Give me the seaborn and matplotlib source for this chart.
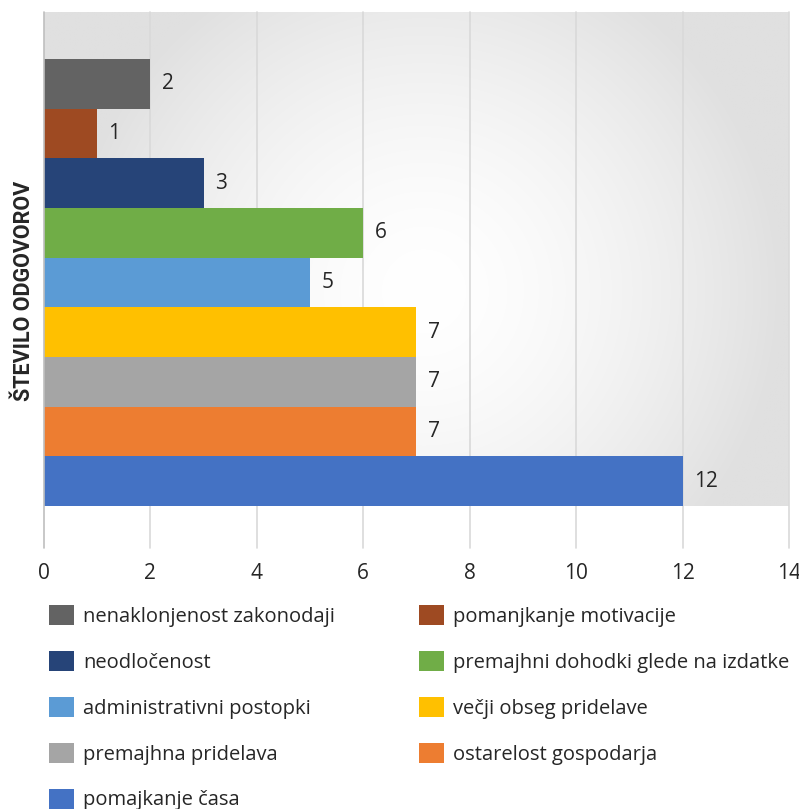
import numpy as np
import pandas as pd
import matplotlib
matplotlib.use("Agg")
import matplotlib.pyplot as plt
import seaborn as sns

# categories top to bottom, as in the chart
categories = [
    "nenaklonjenost zakonodaji",
    "pomanjkanje motivacije",
    "neodločenost",
    "premajhni dohodki glede na izdatke",
    "administrativni postopki",
    "večji obseg pridelave",
    "premajhna pridelava",
    "ostarelost gospodarja",
    "pomajkanje časa",
]
answers = [2, 1, 3, 6, 5, 7, 7, 7, 12]
colors = ["#636363", "#9E4A22", "#264478", "#70AD47", "#5B9BD5",
          "#FFC000", "#A5A5A5", "#ED7D31", "#4472C4"]
xticks = [0, 2, 4, 6, 8, 10, 12, 14]
ylabel = "ŠTEVILO ODGOVOROV"

sns.set_style("white")
plt.rcParams["font.family"] = ["Open Sans", "DejaVu Sans"]
text_color = "#262626"

df = pd.DataFrame({"kategorija": categories, "odgovori": answers})

W, H = 799, 809
fig = plt.figure(figsize=(W / 100, H / 100), dpi=100)
ax = fig.add_axes([44 / W, 1 - 548 / H, (789 - 44) / W, (548 - 12) / H])

sns.barplot(data=df, x="odgovori", y="kategorija", hue="kategorija",
            palette=colors, orient="h", width=1.0, saturation=1,
            linewidth=0, legend=False, ax=ax, zorder=2)

# radial gradient background behind the bars
top, bars_bottom, bottom = -1.446, 8.5, 9.345
gh, gw = 250, 380
yy, xx = np.mgrid[0:gh, 0:gw]
px = xx / (gw - 1) * 745
py = yy / (gh - 1) * 494
r = np.sqrt((px - 380) ** 2 + (py - 280) ** 2) / 360
t = np.clip(r, 0, 1) ** 1.6
level = (1 - t) * 1.0 + t * (224 / 255)
img = np.dstack([level, level, level])
ax.imshow(img, extent=(0, 14, bars_bottom, top), aspect="auto",
          interpolation="bilinear", zorder=0)

for xv in xticks[1:]:
    ax.axvline(xv, color="#d9d9d9", lw=1.2, zorder=0.5, clip_on=False)
ax.axvline(0, color="#bfbfbf", lw=1.2, zorder=3, clip_on=False)

for cont in ax.containers:
    ax.bar_label(cont, padding=8, fontsize=15, color=text_color)

ax.set_xlim(0, 14)
ax.set_ylim(bottom, top)
ax.set_xticks(xticks)
ax.set_yticks([])
ax.set_xlabel("")
ax.set_ylabel("")
ax.tick_params(axis="x", length=0, pad=11, labelsize=15, labelcolor=text_color)
for s in ax.spines.values():
    s.set_visible(False)

fig.text(24 / W, 1 - 291 / H, ylabel, rotation=90, ha="center", va="center",
         fontsize=15.5, fontweight="bold", color=text_color,
         family=["Roboto", "DejaVu Sans"])

# legend laid out row by row in two columns
order = [0, 2, 4, 6, 8, 1, 3, 5, 7]
handles = [ax.containers[i] for i in order]
labels = [categories[i] for i in order]
fig.legend(handles, labels, ncol=2, loc="upper left",
           bbox_to_anchor=(41 / W, 1 - 597 / H), frameon=False,
           fontsize=14.5, labelcolor=text_color, handlelength=1.24,
           handleheight=1.14, handletextpad=0.45, labelspacing=1.2,
           columnspacing=4.15, borderaxespad=0)

fig.savefig("out.png", dpi=100)
